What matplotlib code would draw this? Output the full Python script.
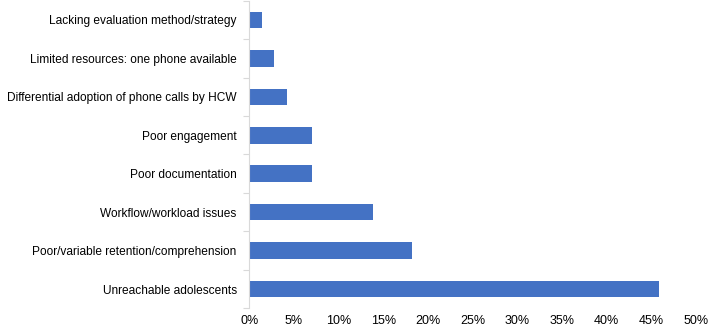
import matplotlib
matplotlib.use("Agg")
import matplotlib.pyplot as plt
import numpy as np
from matplotlib.ticker import FixedLocator, FuncFormatter

categories = [
    "Unreachable adolescents",
    "Poor/variable retention/comprehension",
    "Workflow/workload issues",
    "Poor documentation",
    "Poor engagement",
    "Differential adoption of phone calls by HCW",
    "Limited resources: one phone available",
    "Lacking evaluation method/strategy",
]
values = [45.9, 18.2, 13.9, 7.05, 7.05, 4.2, 2.8, 1.42]
xticks = [0, 5, 10, 15, 20, 25, 30, 35, 40, 45, 50]

plt.rcParams['font.family'] = ['Liberation Sans', 'DejaVu Sans']

fig = plt.figure(figsize=(7.08, 3.27), dpi=100)
ax = fig.add_axes([0.352, 0.0572, 0.983 - 0.352, 0.998 - 0.0572])

y = np.arange(len(categories))
ax.barh(y, values, height=0.43, color="#4472C4")

ax.set_xlim(0, 50)
ax.set_ylim(-0.5, len(categories) - 0.5)
ax.set_xticks(xticks)
ax.xaxis.set_major_formatter(FuncFormatter(lambda v, p: f"{int(v)}%"))
ax.tick_params(axis='x', length=0, pad=5, labelsize=9, colors='black')

ax.set_yticks(y)
ax.set_yticklabels(categories)
ax.tick_params(axis='y', which='major', length=0, pad=9, labelsize=8.6)
ax.yaxis.set_minor_locator(FixedLocator(np.arange(-0.5, len(categories), 1.0)))
ax.tick_params(axis='y', which='minor', length=4, color='#D9D9D9', width=0.8)

for s in ['top', 'right', 'bottom']:
    ax.spines[s].set_visible(False)
ax.spines['left'].set_color('#D9D9D9')
ax.spines['left'].set_linewidth(0.8)

fig.savefig("out.png", dpi=100)
